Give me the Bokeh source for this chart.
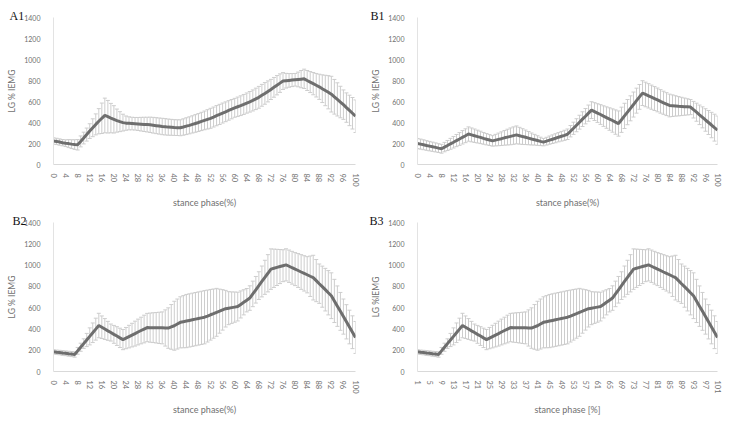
from bokeh.plotting import figure
from bokeh.models import ColumnDataSource, Whisker, TeeHead, Range1d, FixedTicker, Title
from bokeh.layouts import gridplot
from bokeh.embed import file_html
from bokeh.resources import INLINE

# stance phase positions
phase_0_100 = list(range(0, 101))
phase_1_101 = list(range(1, 102))

ticks_0_100 = list(range(0, 101, 4))
ticks_1_101 = list(range(1, 102, 4))
y_ticks = [0, 200, 400, 600, 800, 1000, 1200, 1400]

# A1: mean and SD of LG %IEMG
a1_mean = [224, 220, 214, 208, 203, 199, 194, 190, 188,
           220, 252, 285, 318, 350, 382, 412, 440, 467,
           455, 442, 430, 418, 408, 399, 394, 392,
           390, 388, 386, 384, 382, 380, 378, 374, 370, 366, 362, 359, 356, 354, 352, 351, 350,
           357, 365, 373, 382, 391, 400, 410, 420, 430, 440, 452, 465, 477, 490, 502, 515, 527,
           540, 550, 560, 572, 585, 597, 610, 625, 640, 659, 677, 696, 715, 735, 755, 775, 795,
           798, 801, 804, 807, 810, 813, 816,
           800, 785, 770, 755, 740, 722, 705, 688, 670, 645, 620, 595, 570, 542, 515, 488, 460]
a1_sd = [30, 30, 30, 30, 32, 38, 42, 46, 50,
         52, 56, 62, 70, 85, 100, 120, 145, 165,
         155, 140, 130, 110, 95, 80, 68, 62,
         60, 60, 62, 65, 68, 70, 73, 75, 76, 77, 78, 78, 77, 76, 75, 75, 76,
         78, 80, 81, 82, 84, 85, 87, 89, 92, 95, 95, 96, 96, 95, 94, 93, 92,
         90, 92, 94, 95, 96, 98, 100, 102, 104, 104, 103, 100, 96, 94, 92, 88, 80,
         70, 65, 62, 60, 70, 82, 92,
         95, 100, 106, 112, 120, 132, 145, 158, 170, 165, 158, 150, 140, 140, 145, 150, 155]

# B1
b1_mean = [200, 194, 188, 181, 175, 169, 163, 156, 150,
           166, 181, 197, 212, 228, 243, 259, 274, 290,
           282, 274, 266, 258, 249, 241, 233, 225,
           232, 239, 246, 254, 261, 268, 275, 282,
           274, 266, 259, 251, 243, 236, 228, 220, 213,
           222, 232, 241, 250, 260, 269, 278, 288,
           317, 345, 374, 403, 432, 460, 489, 518,
           504, 490, 476, 461, 447, 433, 419, 404, 390,
           426, 463, 499, 535, 571, 608, 644, 680,
           667, 654, 641, 628, 615, 601, 588, 575, 562,
           560, 558, 555, 553, 551, 549, 547,
           522, 498, 473, 449, 424, 400, 376, 351, 327]
b1_sd = [48, 48, 47, 46, 45, 44, 43, 42, 42,
         45, 48, 52, 55, 58, 61, 64, 66, 68,
         66, 64, 61, 59, 56, 54, 52, 50,
         55, 60, 65, 70, 75, 80, 83, 85,
         80, 75, 69, 63, 57, 51, 46, 40, 35,
         37, 39, 41, 43, 44, 46, 48, 50,
         54, 58, 62, 66, 70, 73, 77, 80,
         85, 89, 94, 98, 102, 107, 111, 116, 120,
         120, 120, 120, 119, 119, 119, 118, 118,
         117, 116, 115, 114, 113, 112, 110, 109, 108,
         103, 97, 92, 87, 82, 77, 72,
         79, 86, 93, 100, 107, 114, 121, 128, 135]

# B2 / B3 (same recording, two phase numberings)
b2_mean = [185, 181, 178, 174, 171, 167, 164, 160,
           194, 228, 262, 296, 330, 364, 398, 432,
           416, 399, 382, 366, 349, 333, 316, 300,
           314, 328, 342, 356, 371, 385, 399, 413,
           412, 412, 411, 410, 410, 409, 408,
           419, 430, 446, 462,
           468, 474, 480, 486, 492, 498, 504, 510,
           521, 533, 544, 556, 567, 579, 590,
           595, 600, 605, 610,
           630, 650, 670, 690,
           729, 768, 807, 846, 885, 923, 962,
           970, 978, 986, 994, 1002,
           989, 975, 962, 949, 935, 922, 909, 895, 882,
           854, 825, 797, 769, 740, 712,
           663, 614, 565, 516, 467, 418, 369, 320]
b2_sd = [20, 20, 21, 22, 22, 23, 24, 25,
         32, 38, 45, 62, 80, 92, 103, 115,
         106, 98, 89, 80, 84, 88, 91, 95,
         100, 106, 111, 117, 121, 125, 130,
         133, 137, 140, 143, 147, 150,
         170, 190, 210, 230,
         235, 240, 245, 250,
         250, 250, 250, 250, 250, 250,
         244, 238, 231, 225,
         207, 190, 172, 155,
         148, 142, 135,
         127, 118, 110,
         115, 120, 125, 130,
         145, 160, 175, 190,
         180, 170, 160, 150,
         151, 152, 154, 155,
         159, 163, 166, 170,
         190, 210,
         198, 185,
         193, 200, 208, 215,
         203, 190, 178, 165,
         161, 158, 154, 150]

TICK_FONT = "Lato"
TEXT_GRAY = "#707070"
BAR_GRAY = "#cdcdcd"
LINE_GRAY = "#6e6e6e"


def panel(tag, x, mean, sd, xticks, xlabel, ylabel, width, height,
          left, right, top, tag_x):
    bottom = height - top - 150
    p = figure(width=width, height=height, output_backend="svg", toolbar_location=None,
               x_range=Range1d(x[0], x[-1]), y_range=Range1d(0, 1400),
               min_border_left=left, min_border_right=right,
               min_border_top=top, min_border_bottom=bottom,
               background_fill_color="white", border_fill_color="white")
    p.outline_line_color = None
    p.xgrid.visible = False
    p.ygrid.visible = False

    # panel tag at the upper-left corner
    p.add_layout(Title(text=tag, align="left", offset=tag_x - left, standoff=-10,
                       text_font="Liberation Serif", text_font_size="12px",
                       text_font_style="normal", text_color="#111111"), "above")

    src = ColumnDataSource(dict(
        x=x, mean=mean,
        upper=[m + s for m, s in zip(mean, sd)],
        lower=[m - s for m, s in zip(mean, sd)],
    ))
    bars = Whisker(base="x", upper="upper", lower="lower", source=src,
                   line_color=BAR_GRAY, line_width=1, level="underlay",
                   upper_head=TeeHead(size=4, line_color=BAR_GRAY, line_width=1),
                   lower_head=TeeHead(size=4, line_color=BAR_GRAY, line_width=1))
    p.add_layout(bars)
    p.line("x", "mean", source=src, line_color=LINE_GRAY, line_width=3)

    xa = p.xaxis[0]
    xa.ticker = FixedTicker(ticks=xticks)
    xa.major_label_orientation = "vertical"
    xa.major_tick_line_color = None
    xa.minor_tick_line_color = None
    xa.axis_line_color = "#d9d9d9"
    xa.major_label_text_font = TICK_FONT
    xa.major_label_text_font_size = "7.5px"
    xa.major_label_text_color = TEXT_GRAY
    xa.major_label_standoff = 3
    xa.axis_label = xlabel
    xa.axis_label_text_font = TICK_FONT
    xa.axis_label_text_font_size = "9px"
    xa.axis_label_text_font_style = "normal"
    xa.axis_label_text_color = TEXT_GRAY
    xa.axis_label_standoff = 7

    ya = p.yaxis[0]
    ya.ticker = FixedTicker(ticks=y_ticks)
    ya.major_tick_line_color = None
    ya.minor_tick_line_color = None
    ya.axis_line_color = "#e3e3e3"
    ya.major_label_text_font = TICK_FONT
    ya.major_label_text_font_size = "7px"
    ya.major_label_text_color = TEXT_GRAY
    ya.major_label_standoff = 7
    ya.axis_label = ylabel
    ya.axis_label_text_font = TICK_FONT
    ya.axis_label_text_font_size = "8.5px"
    ya.axis_label_text_font_style = "normal"
    ya.axis_label_text_color = TEXT_GRAY
    ya.axis_label_standoff = 4
    return p


a1 = panel("A1", phase_0_100, a1_mean, a1_sd, ticks_0_100, "stance phase(%)", "LG % IEMG",
           365, 210, 53, 10, 17, 9)
b1 = panel("B1", phase_0_100, b1_mean, b1_sd, ticks_0_100, "stance phase(%)", "LG % IEMG",
           385, 210, 51, 33, 17, 4)
b2 = panel("B2", phase_0_100, b2_mean, b2_sd, ticks_0_100, "stance phase(%)", "LG % IEMG",
           365, 211, 53, 10, 11, 12)
b3 = panel("B3", phase_1_101, b2_mean, b2_sd, ticks_1_101, "stance phase [%]", "LG %IEMG",
           385, 211, 52, 33, 12, 4)

grid = gridplot([[a1, b1], [b2, b3]], toolbar_location=None)

open("out.html", "w").write(file_html(grid, INLINE))
